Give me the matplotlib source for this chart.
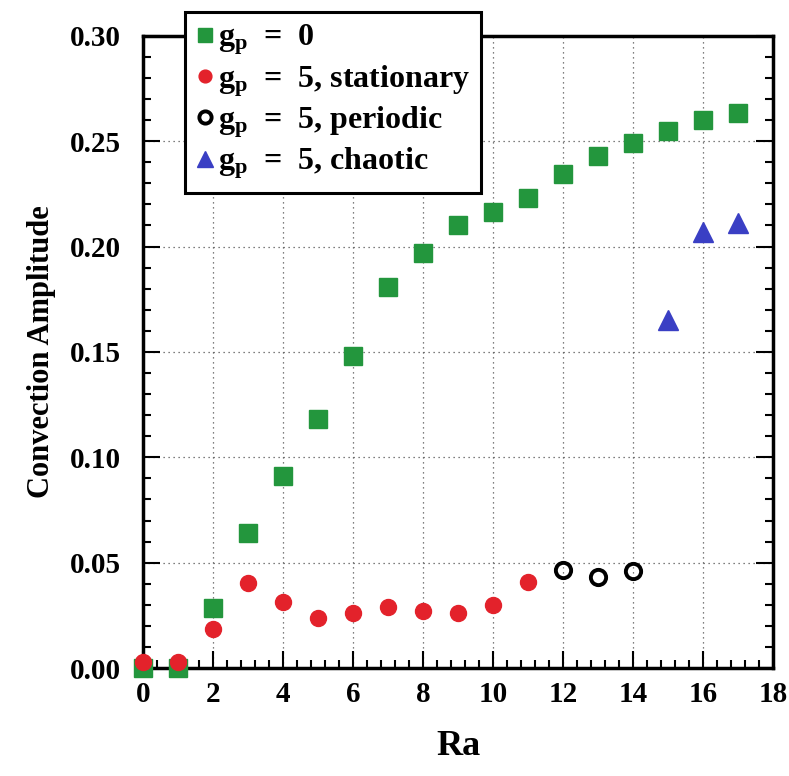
import matplotlib
matplotlib.use("Agg")
import matplotlib.pyplot as plt
from matplotlib.ticker import MultipleLocator

plt.rcParams['font.family'] = ['Liberation Serif', 'DejaVu Serif']
plt.rcParams['font.weight'] = 'bold'
plt.rcParams['mathtext.fontset'] = 'custom'
plt.rcParams['mathtext.rm'] = 'Liberation Serif:bold'
plt.rcParams['mathtext.it'] = 'Liberation Serif:bold'

# data
ra_g0 = [0, 1, 2, 3, 4, 5, 6, 7, 8, 9, 10, 11, 12, 13, 14, 15, 16, 17]
amp_g0 = [0.0, 0.0, 0.0285, 0.064, 0.091, 0.118, 0.148, 0.181, 0.197, 0.210,
          0.2165, 0.223, 0.2345, 0.243, 0.249, 0.255, 0.260, 0.2635]

ra_stat = [0, 1, 2, 3, 4, 5, 6, 7, 8, 9, 10, 11]
amp_stat = [0.003, 0.003, 0.0185, 0.0405, 0.0315, 0.0238, 0.026, 0.029,
            0.027, 0.026, 0.030, 0.041]

ra_per = [12, 13, 14]
amp_per = [0.0465, 0.043, 0.046]

ra_chaos = [15, 16, 17]
amp_chaos = [0.165, 0.207, 0.211]

labels = [r'$\mathregular{g_p}$  =  0',
          r'$\mathregular{g_p}$  =  5, stationary',
          r'$\mathregular{g_p}$  =  5, periodic',
          r'$\mathregular{g_p}$  =  5, chaotic']

fig = plt.figure(figsize=(7.89, 7.76), dpi=100)
ax = fig.add_axes([0.181, 0.139, 0.799, 0.815])

ax.grid(True, which='major', linestyle=(0, (1, 3)), color='#555555', linewidth=0.9)
ax.set_axisbelow(True)

ax.plot(ra_g0, amp_g0, 's', color='#23963d', markersize=12.5, label=labels[0],
        clip_on=False, zorder=3)
ax.plot(ra_stat, amp_stat, 'o', color='#e3222b', markersize=11.5, label=labels[1],
        clip_on=False, zorder=4)
ax.plot(ra_per, amp_per, 'o', markerfacecolor='none', markeredgecolor='black',
        markeredgewidth=2.8, markersize=11, label=labels[2], zorder=4)
ax.plot(ra_chaos, amp_chaos, '^', color='#3a3fc4', markersize=14, label=labels[3],
        zorder=4)

ax.set_xlim(0, 18)
ax.set_ylim(0, 0.30)
ax.xaxis.set_major_locator(MultipleLocator(2))
ax.xaxis.set_minor_locator(MultipleLocator(0.4))
ax.yaxis.set_major_locator(MultipleLocator(0.05))
ax.yaxis.set_minor_locator(MultipleLocator(0.01))
ax.yaxis.set_major_formatter(matplotlib.ticker.FormatStrFormatter('%.2f'))

ax.tick_params(which='both', direction='in', top=False, right=True, width=1.5,
               labelsize=21)
ax.tick_params(axis='x', which='both', pad=9)
ax.tick_params(axis='y', which='both', pad=16)
ax.tick_params(which='major', length=12)
ax.tick_params(which='minor', length=6)
for s in ax.spines.values():
    s.set_linewidth(2.5)

ax.set_xlabel('Ra', fontsize=26, fontweight='bold', labelpad=16)
ax.set_ylabel('Convection Amplitude', fontsize=22, fontweight='bold', labelpad=10)

leg = fig.legend(loc='upper left', bbox_to_anchor=(0.234, 0.985), fontsize=23,
                 frameon=True, fancybox=False, handletextpad=0.1, handlelength=0.6,
                 borderpad=0.35, labelspacing=0.18, borderaxespad=0,
                 markerscale=0.8)
leg.get_frame().set_edgecolor('black')
leg.get_frame().set_linewidth(2.2)
leg.get_frame().set_alpha(1)

fig.savefig('out.png', dpi=100)
